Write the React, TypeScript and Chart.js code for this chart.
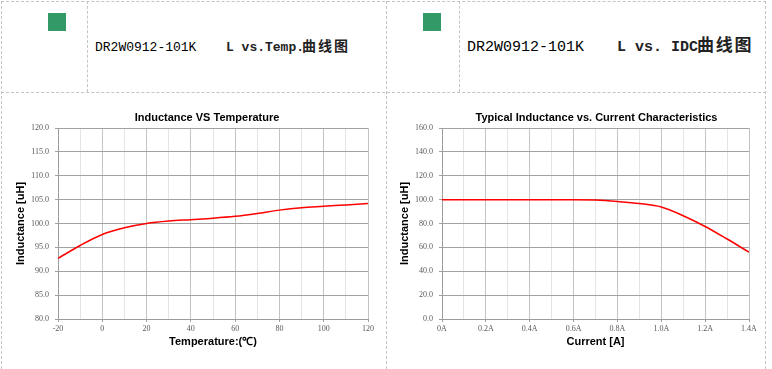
import React, { useEffect, useRef } from "react";
import { Chart, registerables } from "chart.js";
Chart.register(...registerables);

const tempX = [-20, -10, 0, 10, 20, 30, 40, 50, 60, 70, 80, 90, 100, 110, 120];
const tempL = [92.7, 95.4, 97.7, 99.1, 100.0, 100.5, 100.8, 101.1, 101.5, 102.1, 102.8, 103.3, 103.6, 103.9, 104.2];

const currX = [0, 0.1, 0.2, 0.3, 0.4, 0.5, 0.6, 0.7, 0.8, 0.9, 1.0, 1.1, 1.2, 1.3, 1.4];
const currL = [100, 100, 100, 100, 100, 100, 100, 99.6, 98.4, 96.7, 93.8, 86.5, 77.5, 67, 56];

const tempYTicks = { min: 80, max: 120, step: 5 };
const currYTicks = { min: 0, max: 160, step: 20 };

const TITLE_FONT = { family: "'Liberation Sans', Arial, sans-serif", size: 11, weight: "bold" as const };
const TICK_FONT = { family: "'Liberation Serif', serif", size: 8 };
const TICK_COLOR = "#595959";
const DASH = "1px dashed #c4c4c4";

// draws the chart title centred over the plot area (shifted by dx)
const titlePlugin = {
  id: "offsetTitle",
  afterDraw(chart: any, _args: any, opts: any) {
    if (!opts || !opts.text) return;
    const { ctx, chartArea } = chart;
    ctx.save();
    ctx.font = `bold ${opts.size}px 'Liberation Sans', Arial, sans-serif`;
    ctx.fillStyle = "#000";
    ctx.textAlign = "center";
    ctx.textBaseline = "middle";
    ctx.fillText(opts.text, (chartArea.left + chartArea.right) / 2 + opts.dx, opts.y);
    ctx.restore();
  },
};

function baseOptions(
  title: string,
  titleDx: number,
  xTitle: string,
  yMin: number,
  yMax: number,
  yStep: number,
  xMin: number,
  xMax: number,
  xStep: number,
  isMajor: (v: number) => boolean,
  xLabel: (v: number) => string,
  padRight: number
): any {
  return {
    responsive: false,
    animation: false,
    layout: { padding: { left: 0, right: padRight, top: 28, bottom: 0 } },
    plugins: {
      legend: { display: false },
      tooltip: { enabled: false },
      title: { display: false },
      offsetTitle: { text: title, dx: titleDx, y: 18, size: 11 },
    },
    scales: {
      x: {
        type: "linear",
        min: xMin,
        max: xMax,
        ticks: {
          stepSize: xStep,
          autoSkip: false,
          maxRotation: 0,
          font: TICK_FONT,
          color: TICK_COLOR,
          padding: 2,
          callback: (v: number) => (isMajor(v) ? xLabel(v) : ""),
        },
        grid: {
          color: (ctx: any) => (ctx.tick && isMajor(ctx.tick.value) ? "#c2c2c2" : "#e4e4e4"),
          tickColor: (ctx: any) => (ctx.tick && isMajor(ctx.tick.value) ? "#a0a0a0" : "rgba(0,0,0,0)"),
          tickLength: 3,
        },
        border: { color: "#9c9c9c" },
        title: {
          display: true,
          text: xTitle,
          color: "#000",
          font: TITLE_FONT,
          padding: { top: 0, bottom: 20 },
        },
        afterFit: (s: any) => {
          s.height = 50;
        },
      },
      y: {
        min: yMin,
        max: yMax,
        ticks: {
          stepSize: yStep,
          font: TICK_FONT,
          color: TICK_COLOR,
          padding: 6,
          callback: (v: number) => v.toFixed(1),
        },
        grid: { color: "#a2a2a2", tickColor: "#a0a0a0", tickLength: 3 },
        border: { color: "#9c9c9c" },
        title: {
          display: true,
          text: "Inductance [uH]",
          color: "#000",
          font: TITLE_FONT,
          padding: { top: 6, bottom: 0 },
        },
        afterFit: (s: any) => {
          s.width = 50;
        },
      },
    },
  };
}

function LineChart(props: {
  left: number;
  top: number;
  width: number;
  height: number;
  xs: number[];
  ys: number[];
  options: any;
}) {
  const ref = useRef<HTMLCanvasElement | null>(null);
  useEffect(() => {
    if (!ref.current) return;
    const chart = new Chart(ref.current, {
      type: "line",
      data: {
        datasets: [
          {
            data: props.xs.map((x, i) => ({ x, y: props.ys[i] })),
            borderColor: "#ff0000",
            borderWidth: 1.5,
            pointRadius: 0,
            tension: 0.4,
            cubicInterpolationMode: "monotone",
            fill: false,
          },
        ],
      },
      options: props.options,
      plugins: [titlePlugin],
    } as any);
    return () => chart.destroy();
  }, []);
  return (
    <canvas
      ref={ref}
      width={props.width}
      height={props.height}
      style={{
        position: "absolute",
        left: props.left,
        top: props.top,
        width: props.width,
        height: props.height,
      }}
    />
  );
}

const line = (style: React.CSSProperties) => <div style={{ position: "absolute", ...style }} />;

export default function App() {
  const tempOpts = baseOptions(
    "Inductance VS Temperature",
    -6,
    "Temperature:(\u2103)",
    tempYTicks.min,
    tempYTicks.max,
    tempYTicks.step,
    -20,
    120,
    10,
    (v) => Math.round(v) % 20 === 0,
    (v) => String(Math.round(v)),
    18
  );
  const currOpts = baseOptions(
    "Typical Inductance vs. Current Characteristics",
    1,
    "Current [A]",
    currYTicks.min,
    currYTicks.max,
    currYTicks.step,
    0,
    1.4,
    0.1,
    (v) => Math.round(v * 10) % 2 === 0,
    (v) => {
      const r = Math.round(v * 10);
      return r === 0 ? "0A" : (r / 10).toFixed(1) + "A";
    },
    16
  );

  const mono = "'Liberation Mono', 'DejaVu Sans Mono', monospace";
  const cjk = "'Noto Sans CJK SC', sans-serif";

  return (
    <div
      style={{
        position: "absolute",
        left: 0,
        top: 0,
        width: 772,
        height: 369,
        overflow: "hidden",
        background: "#fff",
      }}
    >
      {line({ left: 1, top: 1, width: 765, height: 0, borderTop: DASH })}
      {line({ left: 1, top: 92, width: 765, height: 0, borderTop: DASH })}
      {line({ left: 1, top: 1, width: 0, height: 368, borderLeft: DASH })}
      {line({ left: 87, top: 1, width: 0, height: 91, borderLeft: DASH })}
      {line({ left: 386, top: 1, width: 0, height: 368, borderLeft: DASH })}
      {line({ left: 459, top: 1, width: 0, height: 91, borderLeft: DASH })}
      {line({ left: 765, top: 1, width: 0, height: 368, borderLeft: DASH })}

      <div style={{ position: "absolute", left: 48, top: 13, width: 18, height: 18, background: "#339966" }} />
      <div style={{ position: "absolute", left: 423, top: 13, width: 18, height: 18, background: "#339966" }} />

      <span style={{ position: "absolute", left: 95, top: 41, font: `13px/13px ${mono}`, color: "#000", whiteSpace: "pre" }}>
        DR2W0912-101K
      </span>
      <span style={{ position: "absolute", left: 226, top: 41, font: `bold 13px/13px ${mono}`, color: "#222", whiteSpace: "pre" }}>
        L vs.Temp.
      </span>
      <span style={{ position: "absolute", left: 302, top: 37.5, font: `bold 14px/14px ${cjk}`, letterSpacing: 2, color: "#222", whiteSpace: "pre" }}>
        曲线图
      </span>

      <span style={{ position: "absolute", left: 467, top: 40, font: `15px/15px ${mono}`, color: "#000", whiteSpace: "pre" }}>
        DR2W0912-101K
      </span>
      <span style={{ position: "absolute", left: 617, top: 40, font: `bold 15px/15px ${mono}`, color: "#222", whiteSpace: "pre" }}>
        L vs. IDC
      </span>
      <span style={{ position: "absolute", left: 697, top: 35, font: `bold 17px/17px ${cjk}`, letterSpacing: 1.7, color: "#222", whiteSpace: "pre" }}>
        曲线图
      </span>

      <LineChart left={8} top={100} width={378} height={269} xs={tempX} ys={tempL} options={tempOpts} />
      <LineChart left={392} top={100} width={373} height={269} xs={currX} ys={currL} options={currOpts} />
    </div>
  );
}
